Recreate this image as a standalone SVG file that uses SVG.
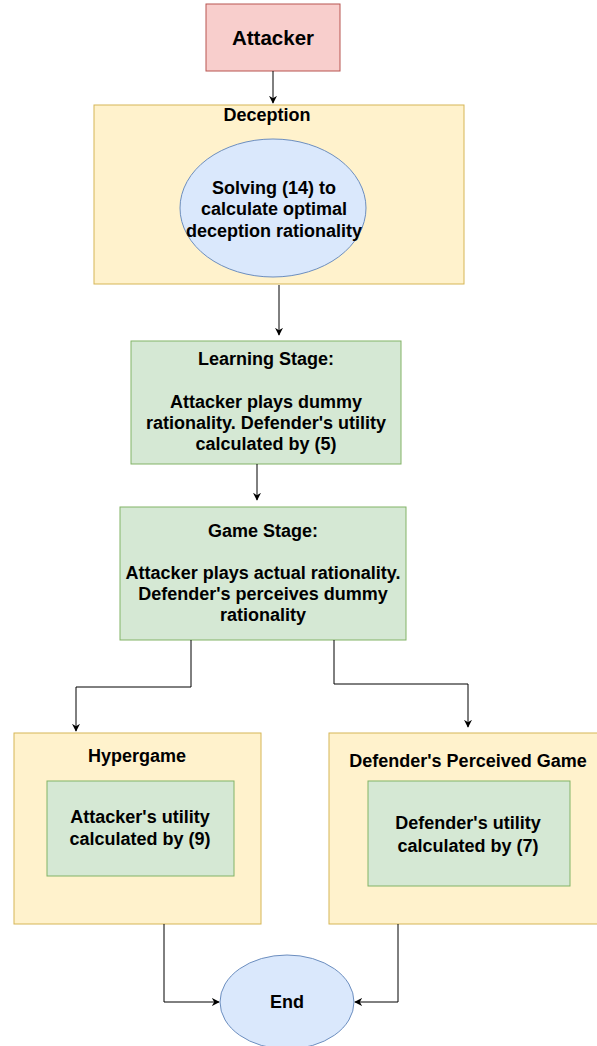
<svg xmlns="http://www.w3.org/2000/svg" width="597" height="1046" viewBox="0 0 597 1046">
<defs>
<style>
text{font-family:"Liberation Sans",Arial,sans-serif;font-weight:bold;fill:#000;text-anchor:middle;font-size:18px}
.red{fill:#f8cecc;stroke:#b85450}
.yel{fill:#fff2cc;stroke:#d6b656}
.blu{fill:#dae8fc;stroke:#6c8ebf}
.grn{fill:#d5e8d4;stroke:#82b366}
.c{fill:none;stroke:#000;stroke-width:1}
</style>
<marker id="ah" viewBox="0 0 10 10" refX="9" refY="5" markerWidth="8" markerHeight="8" orient="auto" markerUnits="userSpaceOnUse">
<path d="M0,0 L10,5 L0,10 L3,5 z" fill="#000"/>
</marker>
</defs>
<rect width="597" height="1046" fill="#fff"/>
<g id="attacker">
<rect class="red" x="206" y="4" width="134" height="67"/>
<text x="273" y="45" style="font-size:20.5px">Attacker</text>
</g>
<g id="deception">
<rect class="yel" x="94" y="105" width="370" height="179"/>
<text x="267" y="121">Deception</text>
</g>
<g id="solving">
<ellipse class="blu" cx="273" cy="208" rx="93" ry="69"/>
<text x="274" y="194">Solving (14) to</text>
<text x="274" y="215">calculate optimal</text>
<text x="274" y="237">deception rationality</text>
</g>
<g id="learning">
<rect class="grn" x="131" y="341" width="270" height="123"/>
<text x="266" y="365">Learning Stage:</text>
<text x="266" y="408">Attacker plays dummy</text>
<text x="266" y="429">rationality. Defender's utility</text>
<text x="266" y="450">calculated by (5)</text>
</g>
<g id="game">
<rect class="grn" x="120" y="507" width="286" height="133"/>
<text x="263" y="537">Game Stage:</text>
<text x="263" y="579">Attacker plays actual rationality.</text>
<text x="263" y="600">Defender's perceives dummy</text>
<text x="263" y="621">rationality</text>
</g>
<g id="hypergame">
<rect class="yel" x="14" y="733" width="247" height="191"/>
<text x="137" y="762">Hypergame</text>
<rect class="grn" x="47" y="781" width="187" height="95"/>
<text x="140" y="823">Attacker's utility</text>
<text x="140" y="845">calculated by (9)</text>
</g>
<g id="perceived">
<rect class="yel" x="329" y="733" width="276" height="191"/>
<text x="468" y="767">Defender's Perceived Game</text>
<rect class="grn" x="368" y="781" width="202" height="105"/>
<text x="468" y="829">Defender's utility</text>
<text x="468" y="852">calculated by (7)</text>
</g>
<g id="end">
<ellipse class="blu" cx="287" cy="1002" rx="67" ry="47"/>
<text x="287" y="1008">End</text>
</g>
<g id="connectors">
<path class="c" d="M273,71 V103" marker-end="url(#ah)"/>
<path class="c" d="M279,285 V335" marker-end="url(#ah)"/>
<path class="c" d="M257,464 V500" marker-end="url(#ah)"/>
<path class="c" d="M191,640 V687 H76 V731" marker-end="url(#ah)"/>
<path class="c" d="M334,640 V684 H468 V727" marker-end="url(#ah)"/>
<path class="c" d="M164,924 V1002 H219" marker-end="url(#ah)"/>
<path class="c" d="M398,924 V1002 H355" marker-end="url(#ah)"/>
</g>
</svg>
